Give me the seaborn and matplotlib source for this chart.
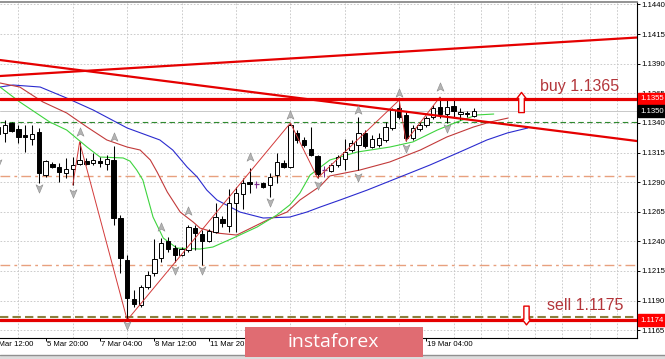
import numpy as np
import pandas as pd
import matplotlib
matplotlib.use("Agg")
import matplotlib.pyplot as plt
import matplotlib.transforms as mtransforms
from matplotlib.patches import Rectangle
from matplotlib.path import Path
from matplotlib.lines import Line2D
import seaborn as sns

# ---------------- data (EURUSD H4) ----------------
bars = list(range(-15, 56))
opens = [1.13306, 1.13315, 1.13399, 1.13348, 1.13298, 1.13264, 1.13323, 1.12960, 1.13053, 1.13028,
         1.12977, 1.13011, 1.13053, 1.13078, 1.13061, 1.13078, 1.13053, 1.13087, 1.12597, 1.12242,
         1.11913, 1.11862, 1.12014, 1.12132, 1.12259, 1.12403, 1.12343, 1.12284, 1.12327, 1.12512,
         1.12462, 1.12403, 1.12479, 1.12588, 1.12529, 1.12724, 1.12800, 1.12901, 1.12884, 1.12892,
         1.12876, 1.12960, 1.13061, 1.13028, 1.13315, 1.13256, 1.13180, 1.13120, 1.13002, 1.12994,
         1.13044, 1.13095, 1.13171, 1.13213, 1.13315, 1.13196, 1.13213, 1.13256, 1.13357, 1.13526,
         1.13467, 1.13272, 1.13348, 1.13382, 1.13450, 1.13534, 1.13475, 1.13543, 1.13475, 1.13484,
         1.13458]
highs = [1.13424, 1.13424, 1.13408, 1.13382, 1.13382, 1.13382, 1.13357, 1.13087, 1.13070, 1.13061,
         1.13104, 1.13112, 1.13239, 1.13104, 1.13146, 1.13112, 1.13129, 1.13205, 1.12622, 1.12284,
         1.11989, 1.12031, 1.12149, 1.12419, 1.12428, 1.12436, 1.12369, 1.12352, 1.12538, 1.12538,
         1.12495, 1.12504, 1.12724, 1.12614, 1.12842, 1.12859, 1.12935, 1.13019, 1.12909, 1.12901,
         1.12977, 1.13146, 1.13087, 1.13399, 1.13340, 1.13281, 1.13365, 1.13129, 1.13036, 1.13061,
         1.13129, 1.13264, 1.13256, 1.13450, 1.13340, 1.13298, 1.13315, 1.13408, 1.13526, 1.13593,
         1.13492, 1.13382, 1.13408, 1.13458, 1.13551, 1.13619, 1.13610, 1.13593, 1.13526, 1.13500,
         1.13526]
lows = [1.13129, 1.13239, 1.13323, 1.13230, 1.13154, 1.13213, 1.12892, 1.12943, 1.13019, 1.12901,
        1.12935, 1.12876, 1.13044, 1.13044, 1.13044, 1.13028, 1.13002, 1.12538, 1.12132, 1.11735,
        1.11845, 1.11845, 1.11997, 1.12107, 1.12225, 1.12310, 1.12225, 1.12276, 1.12310, 1.12327,
        1.12200, 1.12394, 1.12470, 1.12521, 1.12479, 1.12479, 1.12673, 1.12808, 1.12850, 1.12850,
        1.12774, 1.12892, 1.13019, 1.13019, 1.13230, 1.13196, 1.13120, 1.12935, 1.12943, 1.12985,
        1.13028, 1.13002, 1.13154, 1.13002, 1.13188, 1.13188, 1.13196, 1.13239, 1.13340, 1.13433,
        1.13247, 1.13256, 1.13332, 1.13365, 1.13433, 1.13441, 1.13399, 1.13441, 1.13424, 1.13450,
        1.13450]
closes = [1.13365, 1.13382, 1.13332, 1.13281, 1.13281, 1.13306, 1.12977, 1.13078, 1.13028, 1.12985,
          1.13011, 1.13044, 1.13087, 1.13053, 1.13087, 1.13061, 1.13095, 1.12597, 1.12259, 1.11921,
          1.11870, 1.12014, 1.12115, 1.12250, 1.12386, 1.12335, 1.12284, 1.12335, 1.12521, 1.12470,
          1.12403, 1.12487, 1.12605, 1.12555, 1.12724, 1.12808, 1.12892, 1.12884, 1.12884, 1.12859,
          1.12943, 1.13070, 1.13028, 1.13382, 1.13256, 1.13213, 1.13129, 1.12968, 1.13002, 1.13044,
          1.13112, 1.13154, 1.13230, 1.13315, 1.13205, 1.13264, 1.13272, 1.13365, 1.13509, 1.13450,
          1.13272, 1.13357, 1.13382, 1.13441, 1.13526, 1.13475, 1.13534, 1.13500, 1.13492, 1.13475,
          1.13500]

# Alligator lines (bar index, price)
jaw_idx = [-14.7, -12.8, -8.8, -4.9, -1.0, 4.0, 8.8, 10.7, 12.8, 14.3, 15.7, 17.2, 20.6, 24.0, 27.9,
           30.4, 32.4, 35.3, 39.3, 44.1, 48.5, 52.9, 56.9, 59.9, 62.9]
jaw_val = [1.13703, 1.13720, 1.13703, 1.13610, 1.13509, 1.13357, 1.13256, 1.13171, 1.13028, 1.12943,
           1.12833, 1.12749, 1.12647, 1.12597, 1.12605, 1.12647, 1.12690, 1.12749, 1.12833, 1.12943,
           1.13044, 1.13154, 1.13256, 1.13315, 1.13357]
teeth_idx = [-14.7, -11.8, -8.4, -4.9, -1.9, 1.0, 4.0, 5.9, 7.4, 8.4, 9.9, 11.8, 13.7, 14.7, 17.2,
             20.1, 24.6, 27.5, 29.4, 32.4, 33.8, 38.2, 42.6, 47.1, 51.0, 54.9, 57.4, 60.0]
teeth_val = [1.13737, 1.13703, 1.13577, 1.13484, 1.13365, 1.13256, 1.13196, 1.13171, 1.13087, 1.12985,
             1.12816, 1.12647, 1.12563, 1.12512, 1.12470, 1.12453, 1.12580, 1.12647, 1.12749, 1.12867,
             1.12952, 1.13002, 1.13070, 1.13171, 1.13281, 1.13365, 1.13408, 1.13441]
lips_idx = [-14.7, -11.8, -7.4, -4.9, -1.9, 0.0, 3.4, 4.4, 5.4, 6.3, 7.8, 9.3, 11.3, 14.7, 16.6,
            19.6, 23.1, 26.0, 27.9, 29.4, 30.9, 33.8, 37.8, 42.6, 46.0, 49.6, 52.5, 55.4, 57.9]
lips_val = [1.13703, 1.13577, 1.13408, 1.13340, 1.13196, 1.13112, 1.13104, 1.13078, 1.13002, 1.12918,
            1.12605, 1.12428, 1.12343, 1.12335, 1.12352, 1.12428, 1.12521, 1.12622, 1.12707, 1.12808,
            1.12960, 1.13087, 1.13154, 1.13196, 1.13239, 1.13340, 1.13408, 1.13467, 1.13475]

zigzag_idx = [-4, -3, 4, 28, 32, 44, 45, 50]
zigzag_val = [1.12876, 1.13239, 1.11735, 1.13399, 1.12935, 1.13593, 1.13247, 1.13619]

fractal_up_idx = [-3, 2, 9, 13, 22, 28, 38, 44, 50]
fractal_up_val = [1.13323, 1.13281, 1.12521, 1.12656, 1.13112, 1.13467, 1.13509, 1.13653, 1.13703]
fractal_dn_idx = [-15, -9, -4, 4, 11, 15, 25, 32, 38, 45, 51]
fractal_dn_val = [1.13061, 1.12850, 1.12808, 1.11693, 1.12158, 1.12158, 1.12732, 1.12876, 1.12943,
                  1.13188, 1.13357]

buy_level = 1.13602
sell_level = 1.11735
bid_level = 1.13500
green_level = 1.13408
salmon_levels = [1.12951, 1.12200]
olive_level = 1.11761

trend_down = ([-14.706, 78.97], [1.13931, 1.13247])
trend_up = ([-14.706, 78.97], [1.13796, 1.14121])

ytick_vals = [1.1440, 1.1415, 1.1390, 1.1365, 1.1340, 1.1315, 1.1290, 1.1265, 1.1240, 1.1215, 1.1190, 1.1165]
ytick_labels = ["1.1440", "1.1415", "1.1390", "1.1365", "1.1340", "1.1315", "1.1290", "1.1265",
                "1.1240", "1.1215", "1.1190", "1.1165"]
# time-scale marks every 8 bars; the ones under the watermark carry no visible label
xtick_pos = [-16, -8, 0, 8, 16, 24, 32, 40, 48]
xtick_labels = ["4 Mar 12:00", "5 Mar 20:00", "7 Mar 04:00", "8 Mar 12:00", "11 Mar 20:00",
                "", "", "", "19 Mar 04:00"]

assert len(opens) == len(highs) == len(lows) == len(closes) == len(bars)

# ---------------- figure ----------------
sns.set_theme(style="white")
plt.rcParams['font.family'] = ['Liberation Sans', 'DejaVu Sans']

W, H = 665, 359
fig = plt.figure(figsize=(W / 100, H / 100), dpi=100)
fig.patch.set_facecolor('white')
ax = fig.add_axes([0, 21.5 / H, 637 / W, 335.5 / H])
ax.set_facecolor('white')
ax.set_xlim(-14.706, 78.97)
ax.set_ylim(1.11588, 1.14421)
ax.set_axisbelow(True)

# ticks / grid
ax.set_yticks(ytick_vals)
ax.set_yticklabels(ytick_labels)
ax.yaxis.tick_right()
ax.set_xticks([p for p in xtick_pos if p >= -14.7])
ax.set_xticklabels([])
ax.set_xticks(np.arange(-12, 79, 4), minor=True)
ax.grid(False)
ax.grid(True, which='major', axis='y', color='#c4c4c4', linestyle=(0, (2, 2)), lw=0.6)
ax.grid(True, which='minor', axis='x', color='#c4c4c4', linestyle=(0, (2, 2)), lw=0.6)
ax.tick_params(axis='x', which='major', direction='out', length=2.5, width=0.7, colors='black',
               bottom=True, top=False)
ax.tick_params(axis='x', which='minor', length=0)
ax.tick_params(axis='y', direction='out', length=2.2, width=0.7, pad=1.2, labelsize=5.6,
               right=True, left=False, colors='black')

ax.spines['left'].set_visible(False)
ax.spines['top'].set_color('#8a8a8a')
ax.spines['top'].set_linewidth(1.3)
ax.spines['right'].set_color('black')
ax.spines['right'].set_linewidth(0.8)
ax.spines['bottom'].set_color('black')
ax.spines['bottom'].set_linewidth(0.8)

# x labels (left aligned, MT4 style)
for p, lab in zip(xtick_pos, xtick_labels):
    if lab:
        ax.annotate(lab, xy=(p, 0), xycoords=('data', 'axes fraction'), xytext=(1, -7),
                    textcoords='offset pixels', ha='left', va='center', fontsize=5.6,
                    color='black', annotation_clip=False)

# horizontal level lines
ax.axhline(green_level, color='#2f8a2f', lw=0.8, ls=(0, (5, 3)), zorder=1)
for lv in salmon_levels:
    ax.axhline(lv, color='#e8a07e', lw=1.0, ls=(0, (7, 3, 2, 3)), zorder=1)
ax.axhline(olive_level, color='#8c7f3c', lw=1.5, ls=(0, (4, 2)), zorder=1)
ax.axhline(bid_level, color='#c8c8c8', lw=0.7, zorder=1)

# Alligator
sns.lineplot(x=jaw_idx, y=jaw_val, ax=ax, color='#2b2bcf', linewidth=0.8, sort=False,
             estimator=None, legend=False, zorder=2)
sns.lineplot(x=teeth_idx, y=teeth_val, ax=ax, color='#c23a3a', linewidth=0.8, sort=False,
             estimator=None, legend=False, zorder=2)
sns.lineplot(x=lips_idx, y=lips_val, ax=ax, color='#3ed43e', linewidth=0.8, sort=False,
             estimator=None, legend=False, zorder=2)

# candles
df = pd.DataFrame({'i': bars, 'o': opens, 'h': highs, 'l': lows, 'c': closes})
up = df[df.c > df.o]
dn = df[df.c < df.o]
dj = df[df.c == df.o]
nd = df[df.c != df.o]
ax.vlines(nd.i, nd.l, nd.h, color='black', lw=0.75, zorder=3)
ax.bar(up.i, up.c - up.o, bottom=up.o, width=0.63, color='white', edgecolor='black', linewidth=0.7, zorder=3.1)
ax.bar(dn.i, dn.o - dn.c, bottom=dn.c, width=0.63, color='black', edgecolor='black', linewidth=0.7, zorder=3.1)
ax.vlines(dj.i, dj.l, dj.h, color='#7a2a8a', lw=0.75, zorder=3)
ax.hlines(dj.c, dj.i - 0.32, dj.i + 0.32, color='#7a2a8a', lw=0.9, zorder=3.1)

# zigzag
sns.lineplot(x=zigzag_idx, y=zigzag_val, ax=ax, color='#d33a3a', linewidth=0.7, sort=False,
             estimator=None, legend=False, zorder=3.5)

# fractal arrows
up_arrow = Path([(0, 1), (0.75, -0.8), (0, -0.35), (-0.75, -0.8), (0, 1)],
                [Path.MOVETO, Path.LINETO, Path.LINETO, Path.LINETO, Path.CLOSEPOLY])
dn_arrow = Path([(0, -1), (0.75, 0.8), (0, 0.35), (-0.75, 0.8), (0, -1)],
                [Path.MOVETO, Path.LINETO, Path.LINETO, Path.LINETO, Path.CLOSEPOLY])
ax.scatter(fractal_up_idx, fractal_up_val, marker=up_arrow, s=45, color='#b4b4b4',
           edgecolor='#8c8c8c', linewidth=0.4, zorder=5)
ax.scatter(fractal_dn_idx, fractal_dn_val, marker=dn_arrow, s=45, color='#b4b4b4',
           edgecolor='#8c8c8c', linewidth=0.4, zorder=5)

# trend lines and buy / sell levels
sns.lineplot(x=trend_down[0], y=trend_down[1], ax=ax, color='#e50000', linewidth=1.6,
             sort=False, estimator=None, legend=False, zorder=4)
sns.lineplot(x=trend_up[0], y=trend_up[1], ax=ax, color='#e50000', linewidth=1.6,
             sort=False, estimator=None, legend=False, zorder=4)
ax.axhline(buy_level, color='#e50000', lw=2.3, zorder=4)
ax.axhline(sell_level, color='#e50000', lw=2.3, zorder=4)

# annotations
ax.text(64.7, 1.13707, "buy 1.1365", color='#b3353a', fontsize=11.5, ha='left', va='center', zorder=6)
ax.text(65.7, 1.11862, "sell 1.1175", color='#b3353a', fontsize=11.5, ha='left', va='center', zorder=6)

up_big = Path([(-0.28, -1), (0.28, -1), (0.28, 0.4), (0.46, 0.4), (0, 1), (-0.46, 0.4), (-0.28, 0.4), (-0.28, -1)],
              [Path.MOVETO] + [Path.LINETO] * 6 + [Path.CLOSEPOLY])
dn_big = Path([(-0.28, 1), (0.28, 1), (0.28, -0.4), (0.46, -0.4), (0, -1), (-0.46, -0.4), (-0.28, -0.4), (-0.28, 1)],
              [Path.MOVETO] + [Path.LINETO] * 6 + [Path.CLOSEPOLY])
ax.plot([61.9], [1.13577], marker=up_big, markersize=14.5, mfc='white', mec='#e50000', mew=1.0,
        ls='none', zorder=6)
ax.plot([62.6], [1.11778], marker=dn_big, markersize=13.5, mfc='white', mec='#e50000', mew=1.0,
        ls='none', zorder=6, clip_on=False)

# price boxes on the price scale
btrans = mtransforms.blended_transform_factory(ax.transAxes, ax.transData)
for lv, txt, col in [(buy_level, "1.1355", '#ff0000'), (bid_level, "1.1350", '#000000'),
                     (sell_level, "1.1174", '#ff0000')]:
    ax.text(1.006, lv, txt, transform=btrans, ha='left', va='center', fontsize=5.6, color='white',
            bbox=dict(boxstyle='square,pad=0.3', fc=col, ec=col), clip_on=False, zorder=7)

# bottom status strip
fig.add_artist(Rectangle((0, 0), 1, 4 / H, transform=fig.transFigure, facecolor='#dcdcdc',
                         edgecolor='none', zorder=1))
fig.add_artist(Line2D([0, 1], [4 / H, 4 / H], transform=fig.transFigure, color='#909090', lw=1.0, zorder=1))

# watermark
fig.add_artist(Rectangle((245 / W, 2 / H), 178 / W, 30 / H, transform=fig.transFigure,
                         facecolor='#e06c72', edgecolor='none', zorder=2))
fig.text(333 / W, 1 - 342 / H, "instaforex", color='white', fontsize=14, ha='center', va='center',
         family=['Open Sans', 'DejaVu Sans'], zorder=3)

fig.savefig("out.png", dpi=100, facecolor='white')
